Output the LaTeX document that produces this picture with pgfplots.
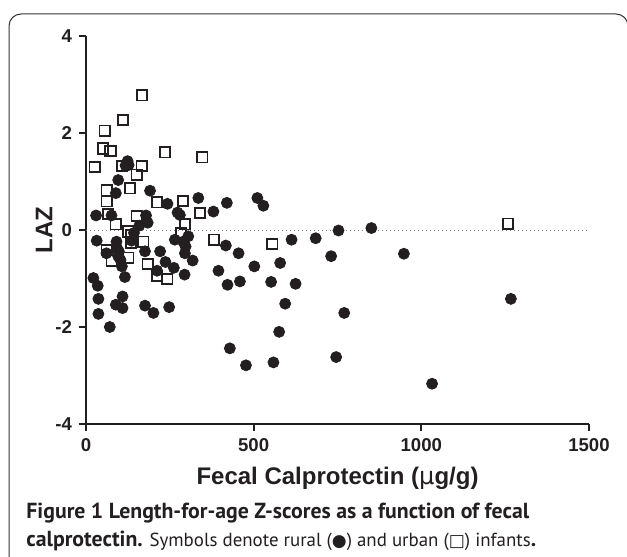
\documentclass[border=0pt]{standalone}
\usepackage{fontspec}
\setmainfont{Liberation Sans}
\newfontfamily\capfont{PT Sans}
\newfontfamily\symfont{DejaVu Sans}
\usepackage{pgfplots}
\pgfplotsset{compat=1.18}
\definecolor{ink}{HTML}{231F20}
\begin{document}
\begin{tikzpicture}[x=1pt,y=1pt]
\begin{axis}[
  at={(43pt,66.5pt)}, anchor=south west,
  scale only axis, width=251.5pt, height=194pt,
  xmin=0, xmax=1500, ymin=-4, ymax=4,
  axis lines=left,
  axis line style={-, line width=1.2pt, ink},
  xtick={0,500,1000,1500}, xticklabels={0,500,1000,1500},
  ytick={-4,-2,0,2,4}, yticklabels={{-4},{-2},{0},{2},{4}},
  tick align=outside, major tick length=3.5pt,
  tick style={line width=1.1pt, ink},
  minor tick num=0,
  ticklabel style={font=\fontsize{9.3}{10}\selectfont\bfseries, text=ink},
  clip=false,
]
\addplot[gray, line width=0.5pt, dash pattern=on 0.6pt off 1.4pt] coordinates {(0,0) (1500,0)};
% urban (open squares)
\addplot[only marks, mark=square, mark size=2.6pt, mark options={line width=0.85pt, draw=ink}] coordinates {
(167,2.78) (110,2.27) (56,2.05) (51,1.68) (73,1.63) (26,1.30) (236,1.60) (347,1.50)
(107,1.32) (166,1.32) (151,1.14) (131,0.86) (62,0.82) (62,0.59) (212,0.57) (289,0.60)
(66,0.33) (151,0.29) (340,0.35) (89,0.12) (126,-0.03) (134,-0.10) (134,-0.27) (295,0.12)
(283,-0.06) (1258,0.13) (382,-0.20) (556,-0.29) (171,-0.24) (62,-0.41) (77,-0.63)
(126,-0.57) (184,-0.70) (213,-0.95) (242,-1.01)
};
% rural (filled circles)
\addplot[only marks, mark=*, mark size=2.75pt, mark options={draw=ink, fill=ink}] coordinates {
(22,-0.99) (35,-1.15) (37,-1.42) (37,-1.73) (71,-2.00) (30,0.30) (32,-0.22) (61,-0.48)
(76,0.30) (89,0.76) (96,1.03) (124,1.42) (118,1.33) (127,1.34) (91,-0.24) (96,-0.54)
(93,-0.38) (98,-0.44) (103,-0.62) (107,-0.75) (116,-0.97) (109,-1.37) (89,-1.54) (109,-1.61)
(176,-1.56) (201,-1.71) (248,-1.59) (191,0.81) (179,0.30) (184,0.15) (159,0.09) (143,-0.06)
(136,-0.22) (176,-0.44) (221,-0.44) (237,-0.66) (212,-0.84) (262,-0.78) (294,-0.92)
(243,0.54) (273,0.36) (280,0.31) (335,0.66) (380,0.38) (420,0.56) (265,-0.20) (305,-0.13)
(290,-0.24) (297,-0.34) (295,-0.48) (318,-0.63) (417,-0.32) (455,-0.48) (502,-0.75)
(395,-0.84) (422,-1.13) (459,-1.06) (429,-2.44) (477,-2.79) (511,0.66) (529,0.50)
(753,-0.01) (851,0.04) (613,-0.20) (685,-0.17) (731,-0.54) (948,-0.49) (579,-0.68)
(552,-1.07) (625,-1.11) (594,-1.52) (770,-1.71) (576,-2.10) (559,-2.73) (746,-2.62)
(1032,-3.17) (1267,-1.42)
};
\end{axis}
% labels
\node[anchor=base, font=\fontsize{12}{14}\selectfont\bfseries, text=ink] at (168.75pt,36pt) {Fecal Calprotectin ({\fontseries{m}\selectfont\symfont μ}g/g)};
\node[rotate=90, anchor=center, font=\fontsize{12}{14}\selectfont\bfseries, text=ink] at (22pt,163.5pt) {LAZ};
% caption
\node[anchor=base west, inner sep=0pt, font=\capfont\fontsize{10.9}{12}\selectfont\bfseries, text=ink] at (13pt,19pt) {Figure 1 Length-for-age Z-scores as a function of fecal};
\node[anchor=base west, inner sep=0pt, font=\capfont\fontsize{9.45}{11}\selectfont, text=ink] at (13pt,5pt) {{\fontsize{10.9}{12}\selectfont\bfseries calprotectin.} Symbols denote rural ({\symfont\fontsize{8.5}{9}\selectfont ●}) and urban ({\symfont\fontsize{8.5}{9}\selectfont □}) infants{\fontsize{10.9}{12}\selectfont\bfseries .}};
% frame
\draw[line width=0.5pt, black!80, rounded corners=6pt] (4.5pt,-30pt) rectangle (314pt,271.5pt);
\pgfresetboundingbox
\path[use as bounding box] (0,0) rectangle (313.5pt,278.5pt);
\end{tikzpicture}
\end{document}
